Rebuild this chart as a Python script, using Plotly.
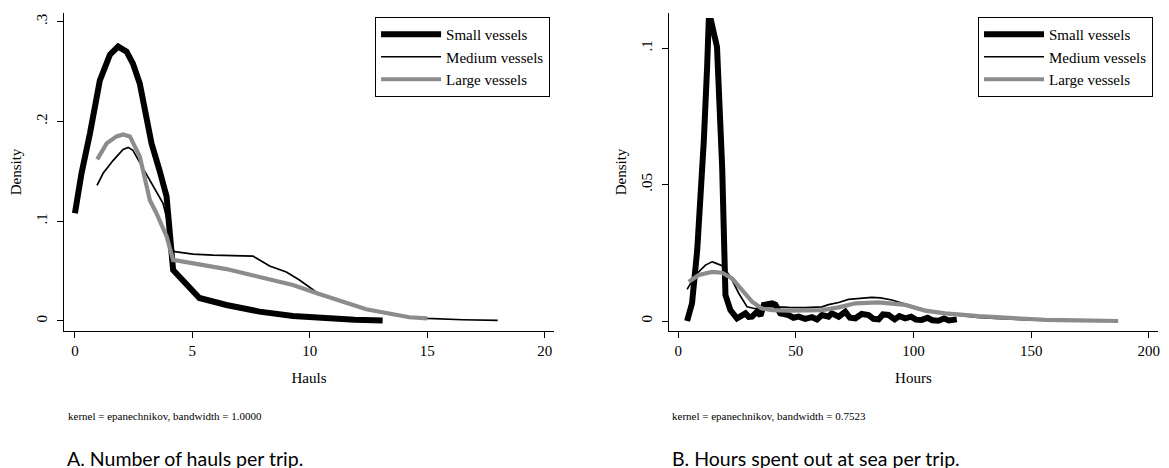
import plotly.graph_objects as go

# ---------------- Panel A: number of hauls per trip ----------------
hauls_small_x = [0, 0.28, 0.64, 1.06, 1.49, 1.84, 2.2, 2.47, 2.76, 3.05, 3.26, 3.6, 3.9, 4.18,
                 5.3, 6.45, 7.86, 9.28, 10.7, 11.9, 13.1]
hauls_small_y = [0.108, 0.148, 0.188, 0.241, 0.267, 0.275, 0.27, 0.258, 0.238, 0.205, 0.178, 0.151,
                 0.125, 0.051, 0.023, 0.016, 0.0093, 0.005, 0.0027, 0.0012, 0.0004]

hauls_medium_x = [0.94, 1.2, 1.63, 2.05, 2.27, 2.47, 2.9, 3.33, 3.75, 4.04, 4.18, 4.25, 5.03, 5.88,
                  6.73, 7.58, 7.86, 8.29, 9.0, 9.56, 10.27, 11.4, 12.4, 13.5, 14.24, 15.0, 16.5, 18.0]
hauls_medium_y = [0.136, 0.148, 0.161, 0.172, 0.174, 0.171, 0.153, 0.135, 0.118, 0.091, 0.071, 0.0695,
                  0.067, 0.066, 0.0655, 0.065, 0.061, 0.055, 0.049, 0.041, 0.029, 0.019, 0.0117,
                  0.006, 0.0037, 0.0025, 0.0012, 0.0005]

hauls_large_x = [0.95, 1.35, 1.77, 2.05, 2.34, 2.76, 3.19, 3.47, 3.9, 4.18, 4.25, 5.03, 6.45, 7.86,
                 9.28, 10.27, 11.4, 12.4, 14.24, 15.0]
hauls_large_y = [0.162, 0.178, 0.185, 0.187, 0.185, 0.165, 0.121, 0.108, 0.085, 0.061, 0.061, 0.058,
                 0.052, 0.044, 0.036, 0.028, 0.019, 0.0117, 0.0037, 0.0025]

# ---------------- Panel B: hours spent at sea per trip ----------------
hours_small_x = [3.8, 5.9, 8.1, 9.5, 10.9, 12.3, 13.0, 14.0, 16.5, 18.7, 20.1, 22.2, 25.0, 27.0,
                 28.6, 30.0, 31.4, 33.5, 35.0, 36.4, 39.9, 41.3, 43.4, 46.9, 49.0, 51.2, 54.0,
                 56.9, 59.0, 61.1, 63.9, 65.3, 68.2, 71.0, 73.0, 75.3, 78.0, 80.9, 83.0, 85.2,
                 87.0, 89.4, 92.0, 94.0, 96.5, 99.0, 101.0, 103.5, 106.0, 108.0, 110.6, 113.0,
                 115.0, 118.4]
hours_small_y = [0.0, 0.0065, 0.026, 0.044, 0.066, 0.093, 0.110, 0.110, 0.1005, 0.0565, 0.0095,
                 0.004, 0.001, 0.002, 0.0028, 0.0015, 0.0016, 0.0034, 0.002, 0.0059, 0.0065, 0.006,
                 0.0028, 0.0022, 0.0012, 0.0016, 0.0008, 0.0014, 0.0006, 0.0022, 0.0016, 0.0028,
                 0.0016, 0.0034, 0.0012, 0.001, 0.0026, 0.0022, 0.0008, 0.0006, 0.0024, 0.0022,
                 0.0006, 0.0018, 0.001, 0.0016, 0.0005, 0.0004, 0.0012, 0.0003, 0.0001, 0.0009,
                 0.0002, 0.0006]

hours_medium_x = [3.8, 7.4, 11.6, 14.4, 15.1, 18.7, 22.2, 25.8, 29.3, 32.8, 36.5, 39.9, 47.0, 54.0,
                  61.1, 63.9, 68.2, 72.4, 77.0, 82.3, 86.0, 90.8, 95.0, 100.7, 106.4, 113.0,
                  120.6, 127.0, 134.7, 141.0, 148.9]
hours_medium_y = [0.0116, 0.0169, 0.0205, 0.0217, 0.0215, 0.0203, 0.0162, 0.0101, 0.0052, 0.0045,
                  0.0054, 0.0052, 0.005, 0.0049, 0.0052, 0.006, 0.0068, 0.0079, 0.0084, 0.0087,
                  0.0085, 0.0077, 0.0066, 0.0052, 0.0038, 0.0027, 0.0018, 0.0013, 0.001, 0.0007,
                  0.0004]

hours_large_x = [4.5, 8.8, 14.4, 18.7, 22.9, 27.2, 31.4, 35.6, 39.9, 47.0, 54.0, 61.1, 68.2, 75.3,
                 85.2, 96.5, 105.0, 113.5, 127.6, 141.6, 155.9, 170.0, 187.0]
hours_large_y = [0.0144, 0.0169, 0.018, 0.0177, 0.0156, 0.0114, 0.0071, 0.0046, 0.004, 0.0038,
                 0.0038, 0.004, 0.005, 0.0065, 0.0068, 0.0059, 0.0038, 0.0028, 0.0018, 0.001,
                 0.0004, 0.0002, 0.0]

series_names = ["Small vessels", "Medium vessels", "Large vessels"]

hauls_xticks = [0, 5, 10, 15, 20]
hauls_yticks = [0, 0.1, 0.2, 0.3]
hauls_yticktext = ["0", ".1", ".2", ".3"]
hours_xticks = [0, 50, 100, 150, 200]
hours_yticks = [0, 0.05, 0.1]
hours_yticktext = ["0", ".05", ".1"]

# styles
styles = [dict(color="#000000", width=6),
          dict(color="#000000", width=1.7),
          dict(color="#8c8c8c", width=4.2)]

SERIF = "Liberation Serif"
SANS = "Lato"

# page body has an 8px margin; positions below are given in window pixels
OFF = 8
W, H = 1169 - OFF, 465
fig = go.Figure()

panelA = [(hauls_small_x, hauls_small_y), (hauls_medium_x, hauls_medium_y),
          (hauls_large_x, hauls_large_y)]
panelB = [(hours_small_x, hours_small_y), (hours_medium_x, hours_medium_y),
          (hours_large_x, hours_large_y)]

for (x, y), name, st in zip(panelA, series_names, styles):
    fig.add_trace(go.Scatter(x=x, y=y, mode="lines", name=name, line=dict(**st),
                             xaxis="x", yaxis="y", legend="legend", hoverinfo="skip"))
for (x, y), name, st in zip(panelB, series_names, styles):
    fig.add_trace(go.Scatter(x=x, y=y, mode="lines", name=name, line=dict(**st),
                             xaxis="x2", yaxis="y2", legend="legend2", hoverinfo="skip"))


def px_x(p):
    return (p - OFF) / W


def px_y(p):
    return 1 - (p - OFF) / H


axis_common = dict(showgrid=False, zeroline=False, showline=True, linecolor="#000000",
                   linewidth=1, ticks="outside", ticklen=6, tickwidth=1, tickcolor="#000000",
                   tickfont=dict(family=SERIF, size=15, color="#000000"))

legend_common = dict(xanchor="right", yanchor="top", bordercolor="#000000", borderwidth=1,
                     bgcolor="white", itemwidth=60,
                     font=dict(family=SERIF, size=15, color="#000000"), tracegroupgap=0)

fig.update_layout(
    width=W, height=H,
    margin=dict(l=0, r=0, t=0, b=0),
    paper_bgcolor="white", plot_bgcolor="white",
    font=dict(family=SERIF, color="#000000"),
    xaxis=dict(domain=[px_x(64), px_x(555)], range=[-0.47, 20.4], anchor="y",
               tickvals=hauls_xticks,
               title=dict(text="Hauls", font=dict(family=SERIF, size=15), standoff=14),
               **axis_common),
    yaxis=dict(domain=[px_y(331), px_y(13)], range=[-0.0101, 0.3087], anchor="x",
               tickvals=hauls_yticks, ticktext=hauls_yticktext, tickangle=-90,
               ticklabelstandoff=4,
               title=dict(text="Density", font=dict(family=SERIF, size=15), standoff=8),
               **axis_common),
    xaxis2=dict(domain=[px_x(670), px_x(1160)], range=[-3.95, 203.9], anchor="y2",
                tickvals=hours_xticks,
                title=dict(text="Hours", font=dict(family=SERIF, size=15), standoff=14),
                **axis_common),
    yaxis2=dict(domain=[px_y(331), px_y(13)], range=[-0.00366, 0.1129], anchor="x2",
                tickvals=hours_yticks, ticktext=hours_yticktext, tickangle=-90,
                ticklabelstandoff=4,
                title=dict(text="Density", font=dict(family=SERIF, size=15), standoff=8),
                **axis_common),
    legend=dict(x=px_x(551), y=px_y(17), **legend_common),
    legend2=dict(x=px_x(1155), y=px_y(17), **legend_common),
    annotations=[
        dict(text="kernel = epanechnikov, bandwidth = 1.0000", x=px_x(66), y=px_y(416),
             xref="paper", yref="paper", xanchor="left", yanchor="middle", showarrow=False,
             font=dict(family=SERIF, size=11, color="#000000")),
        dict(text="kernel = epanechnikov, bandwidth = 0.7523", x=px_x(671), y=px_y(416),
             xref="paper", yref="paper", xanchor="left", yanchor="middle", showarrow=False,
             font=dict(family=SERIF, size=11, color="#000000")),
        dict(text="A. Number of hauls per trip.", x=px_x(65), y=px_y(458),
             xref="paper", yref="paper", xanchor="left", yanchor="middle", showarrow=False,
             font=dict(family=SANS, size=19.5, color="#000000")),
        dict(text="B. Hours spent out at sea per trip.", x=px_x(671), y=px_y(458),
             xref="paper", yref="paper", xanchor="left", yanchor="middle", showarrow=False,
             font=dict(family=SANS, size=19.5, color="#000000")),
    ],
)

fig.write_html("out.html")
